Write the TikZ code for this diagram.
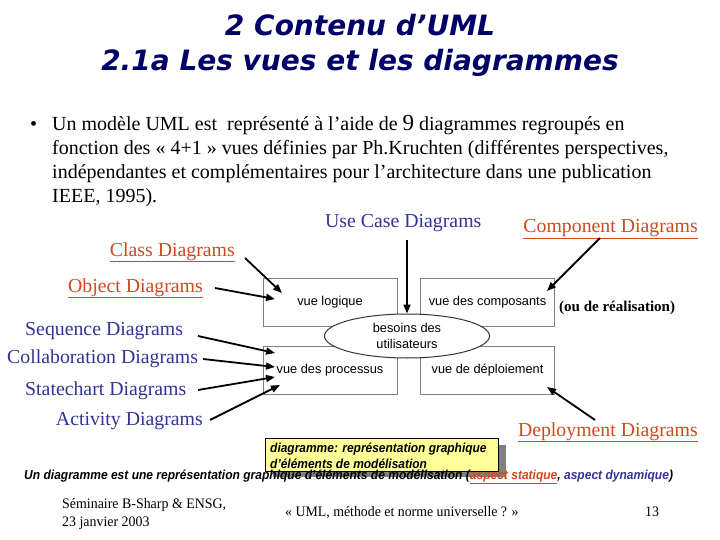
\documentclass[tikz,border=0pt]{standalone}
\usepackage{fontspec}
\usepackage{graphicx}
\setmainfont{Liberation Serif}
\newfontfamily\arialf{Liberation Sans}
\newfontfamily\titlef{DejaVu Sans}
\usetikzlibrary{arrows.meta,shapes.geometric}
\definecolor{navy}{HTML}{000066}
\definecolor{orng}{HTML}{D04A1E}
\definecolor{dblue}{HTML}{333399}
\definecolor{yel}{HTML}{FFFF99}
\newcommand{\nrw}[2][0.82]{\scalebox{#1}[1]{#2}}
\tikzset{
  lbl/.style={inner sep=0pt, font=\fontsize{19.8}{22}\selectfont},
  uml/.style={lbl, text=orng},
  dyn/.style={lbl, text=dblue},
  view/.style={draw=gray, line width=1pt, fill=white, minimum width=134pt, minimum height=48pt, inner sep=0pt, font=\arialf\fontsize{12.8}{14}\selectfont},
  arr/.style={line width=1.8pt, -{Triangle[length=9pt,width=7pt]}},
  body/.style={inner sep=0pt, anchor=base west, font=\fontsize{20}{24}\selectfont},
}
\begin{document}
\begin{tikzpicture}[x=1pt,y=-1pt]
\useasboundingbox[fill=white] (0,0) rectangle (720,540);
% title
\node[anchor=base, inner sep=0pt, text=navy, font=\titlef\bfseries\itshape\fontsize{28}{30}\selectfont] (t1) at (360,36) {2 Contenu d’UML};
\node[anchor=base, inner sep=0pt, text=navy, font=\titlef\bfseries\itshape\fontsize{28}{30}\selectfont] (t2) at (360,71) {2.1a Les vues et les diagrammes};
% bullet text
\node[body] (bul) at (30,131) {•};
\node[body] (b1) at (52,131) {Un modèle UML est\ \ représenté à l’aide de {\fontsize{23}{24}\selectfont 9} diagrammes regroupés en};
\node[body] (b2) at (52,155) {fonction des « 4+1 » vues définies par Ph.Kruchten (différentes perspectives,};
\node[body] (b3) at (52,179) {indépendantes et complémentaires pour l’architecture dans une publication};
\node[body] (b4) at (52,203) {IEEE, 1995).};
% views
\node[view] (vl) at (330,302) {vue logique};
\node[view] (vc) at (487.5,302) {vue des composants};
\node[view] (vp) at (330,370) {vue des processus};
\node[view] (vd) at (487.5,370) {vue de déploiement};
\node[ellipse, draw=black!80, line width=1pt, fill=white, minimum width=165pt, minimum height=44pt, inner sep=0pt, align=center, font=\arialf\fontsize{12.8}{16}\selectfont] (bes) at (407,336) {besoins des\\utilisateurs};
% labels
\node[dyn, anchor=base west] (uc) at (325,227) {Use Case Diagrams};
\node[uml, anchor=base east] (cd) at (698,233) {\underline{Component Diagrams}};
\node[uml, anchor=base east] (cl) at (235,256) {\underline{Class Diagrams}};
\node[uml, anchor=base east] (ob) at (203,292) {\underline{Object Diagrams}};
\node[dyn, anchor=base west] (sq) at (25,335) {Sequence Diagrams};
\node[dyn, anchor=base west] (co) at (7,363) {Collaboration Diagrams};
\node[dyn, anchor=base west] (st) at (25,395) {Statechart Diagrams};
\node[dyn, anchor=base east] (ac) at (203,425) {Activity Diagrams};
\node[uml, anchor=base east] (dp) at (698,436) {\underline{Deployment Diagrams}};
\node[inner sep=0pt, anchor=base west, font=\bfseries\fontsize{15}{17}\selectfont] (real) at (559,311) {(ou de réalisation)};
% arrow coordinates
\coordinate (ucS) at (407,240);
\coordinate (cdS) at (600,238); \coordinate (cdT) at (547,291);
\coordinate (dpS) at (595,420); \coordinate (dpT) at (547,387);
\coordinate (clS) at (245,258); \coordinate (clT) at (282,293);
\coordinate (obS) at (215,288); \coordinate (obT) at (275,299);
\coordinate (sqS) at (198,336); \coordinate (sqT) at (275,353);
\coordinate (coS) at (203,359); \coordinate (coT) at (275,367);
\coordinate (stS) at (198,390); \coordinate (stT) at (275,377);
\coordinate (acS) at (210,420); \coordinate (acT) at (280,385);
\draw[arr] (ucS) -- (bes.north);
\draw[arr] (cdS) -- (cdT);
\draw[arr] (dpS) -- (dpT);
\draw[arr] (clS) -- (clT);
\draw[arr] (obS) -- (obT);
\draw[arr] (sqS) -- (sqT);
\draw[arr] (coS) -- (coT);
\draw[arr] (stS) -- (stT);
\draw[arr] (acS) -- (acT);
% note box
\fill[gray] (273,445) rectangle (506,477);
\node[draw=black, line width=0.8pt, fill=yel, anchor=north west, minimum width=233pt, minimum height=33pt, inner sep=0pt] (note) at (265,438) {};
\node[inner sep=0pt, anchor=base west, font=\arialf\bfseries\itshape\fontsize{13}{16}\selectfont] (notet) at (270,452) {\nrw[0.92]{diagramme: représentation graphique}};
\node[inner sep=0pt, anchor=base west, font=\arialf\bfseries\itshape\fontsize{13}{16}\selectfont] (notet2) at (270,468) {\nrw[0.92]{d’éléments de modélisation}};
% main line
\node[inner sep=0pt, anchor=base west, font=\arialf\bfseries\itshape\fontsize{13}{16}\selectfont] (main) at (24,479) {\nrw[0.925]{Un diagramme est une représentation graphique d’éléments de modélisation (\textcolor{orng}{\underline{aspect statique}}, \textcolor{dblue}{aspect dynamique})}};
% footer
\node[inner sep=0pt, anchor=base west, font=\fontsize{14.5}{18}\selectfont] (f1) at (62,508) {\nrw[0.96]{Séminaire B-Sharp \& ENSG,}};
\node[inner sep=0pt, anchor=base west, font=\fontsize{14.5}{18}\selectfont] (f2) at (62,526) {\nrw[0.96]{23 janvier 2003}};
\node[inner sep=0pt, anchor=base west, font=\fontsize{14.5}{18}\selectfont] (f3) at (285,516) {\nrw[0.955]{« UML, méthode et norme universelle ? »}};
\node[inner sep=0pt, anchor=base west, font=\fontsize{14.5}{18}\selectfont] (f4) at (645,516) {\nrw[0.96]{13}};
\end{tikzpicture}
\end{document}
